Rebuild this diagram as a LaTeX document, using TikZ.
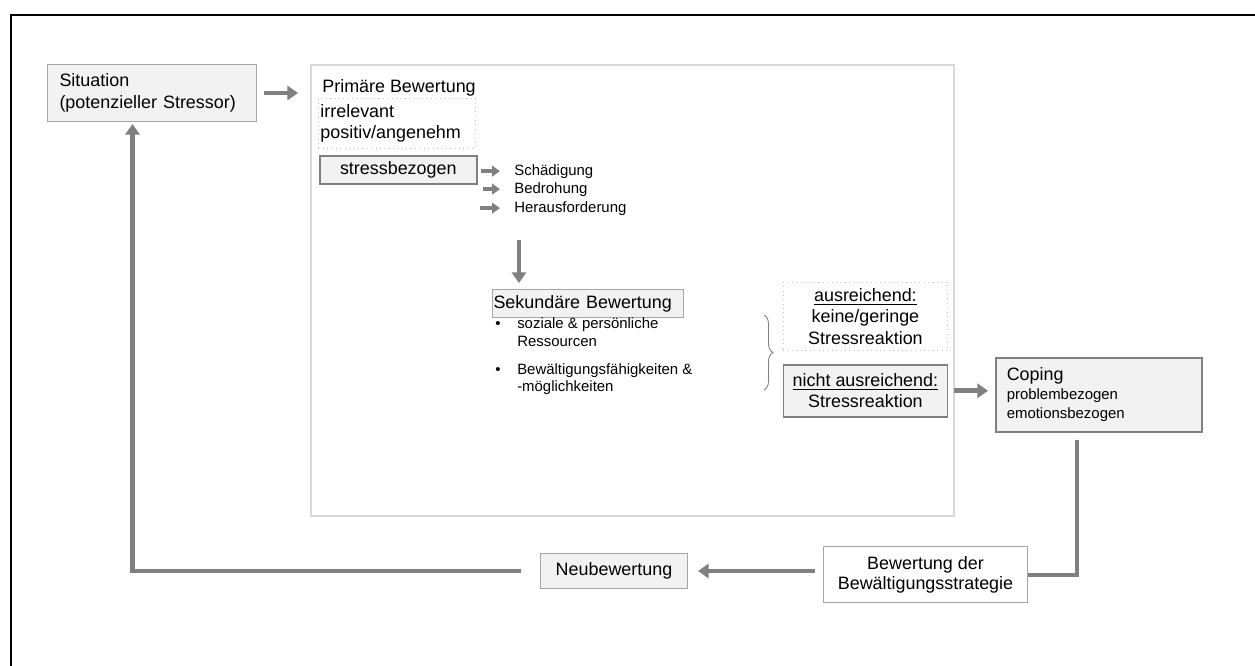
\documentclass[tikz,border=0pt]{standalone}
\usepackage{fontspec}
\setmainfont{Liberation Sans}
\usetikzlibrary{arrows.meta}
\usetikzlibrary{positioning}
\usetikzlibrary{decorations.pathreplacing}
\definecolor{boxfill}{HTML}{F2F2F2}
\definecolor{boxline}{HTML}{A6A6A6}
\definecolor{darkline}{HTML}{7F7F7F}
\definecolor{linegray}{HTML}{808080}
\definecolor{framegray}{HTML}{D9D9D9}
\definecolor{dotgray}{HTML}{BFBFBF}
\newcommand{\bigtxt}{\fontsize{10.2}{12.3}\selectfont}
\newcommand{\smalltxt}{\fontsize{8.5}{10}\selectfont}
\tikzset{
  greybox/.style={rectangle, draw=boxline, fill=boxfill, line width=0.6pt, font=\bigtxt},
  darkbox/.style={greybox, draw=darkline, line width=0.9pt},
  whitebox/.style={rectangle, draw=boxline, fill=white, line width=0.6pt, font=\bigtxt},
  dotbox/.style={rectangle, draw=dotgray, dotted, line width=0.5pt, font=\bigtxt},
  textonly/.style={inner sep=0pt, font=\bigtxt},
  smalllabel/.style={inner sep=0pt, font=\smalltxt},
  arrow/.style={draw=linegray, line width=2.6pt, -{Triangle[width=8pt,length=6pt]}},
  thinarrow/.style={draw=linegray, line width=2pt, -{Triangle[width=6pt,length=4.5pt]}},
  link/.style={draw=linegray, line width=2.3pt}
  }

\begin{document}
\begin{tikzpicture}[x=0.02cm, y=-0.02cm]
	\useasboundingbox (0,0) rectangle (1255,666);
	% Frame
	\draw[line width=1.2pt] (11,666) -- (11,15) -- (1255,15);
	\node[draw=framegray, line width=1.1pt, minimum width=12.86cm, minimum height=9.02cm, anchor=north west, inner sep=0pt] (prim) at (310,64) {};

	% Nodes
	\node[greybox, anchor=north west, text width=3.70cm, inner xsep=0.24cm, minimum height=1.14cm, align=left] (sit) at (47,64) {Situation\\(potenzieller Stressor)};
	\node[textonly, anchor=base west] (primtitle) at (322,92) {Primäre Bewertung};
	\node[dotbox, anchor=north west, text width=3.06cm, inner xsep=0.04cm, minimum height=0.94cm, align=left] (irr) at (318,98) {irrelevant\\positiv/angenehm};
	\node[darkbox, anchor=north west, minimum width=3.14cm, minimum height=0.54cm] (stress) at (319,155) {stressbezogen};
	\node[smalllabel, anchor=base west] (dmg) at (514,175) {Schädigung};
	\node[smalllabel, anchor=base west] (thr) at (514,193) {Bedrohung};
	\node[smalllabel, anchor=base west] (chl) at (514,212) {Herausforderung};
	\coordinate (secin) at (519,240);
	\node[greybox, anchor=north west, text width=3.78cm, inner xsep=0.02cm, minimum height=0.5cm, align=left] (sek) at (492,289) {Sekundäre Bewertung};
	\node[smalllabel, anchor=north west] (res) at (495,316) {%
		\begin{tabular}{@{}l@{\hspace{9.5pt}}l@{}}
			\textbullet & soziale \& persönliche\\
			& Ressourcen\\[6pt]
			\textbullet & Bewältigungsfähigkeiten \&\\
			& -möglichkeiten
		\end{tabular}};
	\node[dotbox, anchor=north west, minimum width=3.28cm, minimum height=1.36cm, align=center] (ok) at (783,282) {\underline{ausreichend:}\\keine/geringe\\Stressreaktion};
	\node[darkbox, below=0.26cm of ok, minimum width=3.28cm, minimum height=1.04cm, align=center] (notok) {\underline{nicht ausreichend:}\\Stressreaktion};
	\node[darkbox, anchor=north west, text width=3.68cm, inner xsep=0.22cm, minimum height=1.48cm, align=left] (coping) at (995,357) {Coping\\[-1.5pt]{\smalltxt problembezogen}\\[-1.5pt]{\smalltxt emotionsbezogen}};
	\node[whitebox, anchor=north west, minimum width=4.08cm, minimum height=1.12cm, align=center] (bew) at (823,546) {Bewertung der\\[-1pt]Bewältigungsstrategie};
	\node[greybox, anchor=north west, minimum width=2.94cm, minimum height=0.7cm] (neu) at (540,553) {Neubewertung};

	% Arrows
	\draw[arrow, shorten <=0.14cm, shorten >=0.24cm] (sit.east) -- (sit.east -| prim.west);
	\draw[thinarrow] (dmg.west) ++(-33,0) -- ++(19,0);
	\draw[thinarrow] (thr.west) ++(-31,0) -- ++(17,0);
	\draw[thinarrow] (chl.west) ++(-34,0) -- ++(20,0);
	\draw[arrow, shorten >=0.12cm] (secin) -- (secin |- sek.north);
	\draw[decorate, decoration={brace, amplitude=0.18cm}, draw=darkline, line width=0.5pt] (764,315) -- (764,390);
	\draw[arrow, shorten <=0.12cm, shorten >=0.14cm] (notok.east) -- (notok.east -| coping.west);
	\draw[link] (coping.south) ++(-22,7) |- (bew.east);
	\draw[arrow, shorten <=0.16cm, shorten >=0.2cm] (neu.east -| bew.west) -- (neu.east);
	\draw[arrow, shorten >=0.04cm] (neu.west) ++(-19,0) -| ([xshift=-0.39cm]sit.south);
\end{tikzpicture}
\end{document}
